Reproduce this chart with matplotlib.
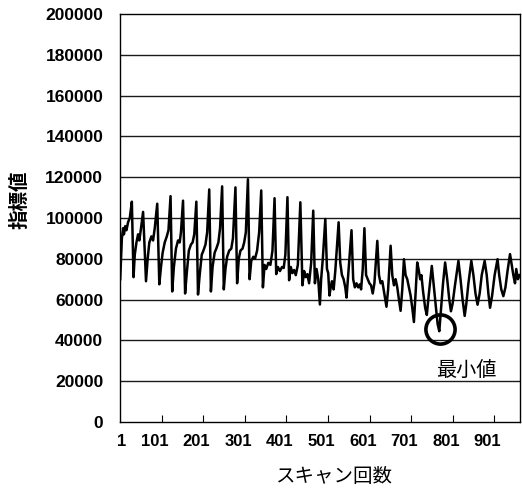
import numpy as np
import matplotlib
matplotlib.use('Agg')
from matplotlib import pyplot as plt
from matplotlib.transforms import ScaledTranslation

plt.rcParams['font.family'] = ['Liberation Sans', 'Noto Sans CJK JP', 'DejaVu Sans']

# vertices of the trace (scan number, index value)
scan = [1, 3, 5, 8, 10, 13, 16, 20, 24, 29, 33,
        36, 40, 44, 47, 51, 56, 63,
        67, 71, 76, 80, 84, 90, 95,
        99, 103, 108, 113, 117, 122, 126,
        130, 135, 140, 144, 147, 152, 157,
        161, 166, 171, 175, 179, 184, 188,
        192, 197, 201, 206, 210, 215, 219,
        223, 228, 232, 237, 241, 246, 250,
        254, 258, 263, 268, 272, 278, 282,
        286, 290, 295, 299, 303, 308, 312,
        316, 321, 325, 330, 335, 340, 344,
        348, 352, 357, 362, 367, 372, 376,
        380, 385, 390, 394, 398, 403, 407,
        411, 415, 419, 423, 428, 434, 439,
        443, 447, 451, 455, 460, 465, 469,
        473, 477, 481, 484, 488, 494,
        498, 501, 504, 507, 510, 514, 518, 526,
        530, 534, 538, 542, 545, 549, 557,
        561, 565, 569, 573, 577, 580, 584, 588,
        592, 596, 600, 604, 608, 612, 619,
        623, 627, 631, 635, 641, 645, 651,
        655, 659, 663, 667, 671, 675, 679, 683,
        687, 691, 695, 699, 703, 707, 711, 715,
        719, 722, 725, 729, 734, 738, 743, 750,
        755, 760, 764, 768, 772, 777, 782,
        787, 792, 796, 800, 805, 814,
        819, 824, 829, 833, 838, 845,
        850, 855, 860, 865, 870, 877,
        882, 886, 890, 895, 901, 908,
        912, 917, 922, 927, 932, 938,
        942, 946, 950, 953, 957, 961]
value = [70000, 80000, 90000, 95000, 92000, 96000, 94000, 98000, 100000, 108000, 71000,
         82000, 88000, 92000, 89000, 95000, 103000, 69000,
         80000, 88000, 91000, 89000, 95000, 107000, 67500,
         76000, 83000, 88000, 91000, 94000, 110700, 64000,
         76000, 85000, 89000, 88000, 93000, 108500, 63000,
         73000, 84000, 87000, 88000, 92000, 108000, 62500,
         72000, 82000, 84000, 87000, 93000, 114000, 64000,
         76000, 83000, 85000, 88000, 95000, 115500, 65000,
         75000, 81000, 84000, 85000, 90000, 115000, 68000,
         80000, 84000, 85000, 88000, 93000, 119000, 70000,
         79000, 81000, 80000, 84000, 93000, 113500, 66000,
         77000, 75000, 78000, 77000, 84000, 109700, 72500,
         76000, 74000, 76000, 75500, 82000, 110200, 69500,
         76000, 73000, 74500, 72000, 77000, 107700, 67000,
         74000, 71000, 72500, 68000, 78000, 103600, 68000,
         75000, 70000, 57600, 70000, 80000, 99500,
         75000, 73000, 62000, 66000, 69000, 65000, 74000, 97900,
         78000, 72000, 70000, 66000, 61000, 72000, 94000,
         70000, 66000, 68000, 66000, 67500, 65000, 75000, 95000,
         72000, 70000, 68000, 67000, 63000, 68000, 88800,
         72000, 68000, 69000, 64000, 56500, 65000, 86400,
         72000, 67000, 70000, 66000, 60000, 54500, 65000, 79800,
         72000, 70000, 66000, 62000, 56000, 49000, 63000, 78200,
         74000, 70000, 72000, 64000, 56000, 52500, 63000, 76500,
         66000, 56000, 48000, 44500, 55000, 68000, 78200,
         70000, 60000, 54300, 58000, 66000, 79000,
         70000, 60000, 52000, 58000, 68000, 79000,
         72000, 63000, 57500, 63000, 72000, 79000,
         72000, 63000, 56000, 62000, 72000, 79800,
         72000, 65000, 61700, 66000, 74000, 82300,
         77000, 72000, 68000, 75000, 70000, 72000]

y_ticks = np.arange(0, 200001, 20000)
x_labels = ['1', '101', '201', '301', '401', '501', '601', '701', '801', '901']
x_label_pos = [1, 101, 201, 301, 401, 501, 601, 701, 801, 901]
min_scan, min_value = 770, 45600

fig = plt.figure(figsize=(5.22, 4.88), dpi=100)
ax = fig.add_axes([120/522, 1-422/488, 400/522, 408/488])

for v in y_ticks[1:-1]:
    ax.axhline(v, color='#1a1a1a', lw=1.0, zorder=1)

ax.plot(scan, value, color='black', lw=1.8, zorder=3)

# circle around the minimum and its label
ax.plot([min_scan], [min_value], marker='o', markersize=21, mfc='none',
        mec='black', mew=2.6, zorder=4)
ax.text(834, 25500, '最小値', fontsize=14.5, ha='center', va='center')

ax.set_xlim(0.5, 962)
ax.set_ylim(0, 200000)
ax.set_yticks(y_ticks)
ax.set_yticklabels([str(v) for v in y_ticks], fontsize=12.5, fontweight='bold')
ax.tick_params(axis='y', length=0, pad=12)

ax.set_xticks(x_label_pos)
ax.set_xticklabels(x_labels, fontsize=12, fontweight='bold')
ax.set_xticks(np.arange(100.5, 962, 100), minor=True)
ax.tick_params(axis='x', which='major', length=0, pad=9)
ax.tick_params(axis='x', which='minor', direction='in', length=5, width=0.8)
for i, lab in enumerate(ax.get_xticklabels()):
    dx = 1 if i == 0 else -7
    lab.set_transform(lab.get_transform() + ScaledTranslation(dx/100, 0, fig.dpi_scale_trans))

for s in ax.spines.values():
    s.set_linewidth(1.0)

fig.text(20/522, 1-200/488, '指標値', rotation=90, fontsize=14, fontweight='bold',
         ha='center', va='center')
fig.text(334/522, 1-477/488, 'スキャン回数', fontsize=14, ha='center', va='center')

fig.savefig('out.png', dpi=100)
